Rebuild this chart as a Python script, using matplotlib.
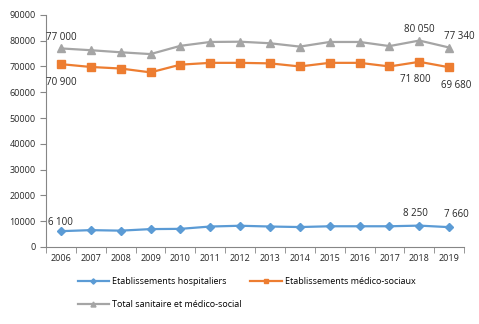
import matplotlib.pyplot as plt
import numpy as np

plt.rcParams['font.family'] = ['Open Sans', 'DejaVu Sans']

years = [str(y) for y in range(2006, 2020)]
hospitaliers = [6100, 6500, 6300, 6900, 7000, 7900, 8200, 7900, 7700, 8000, 8000, 8000, 8250, 7660]
medico_sociaux = [70900, 69800, 69200, 67700, 70700, 71400, 71400, 71200, 70000, 71400, 71400, 70000, 71800, 69680]
total = [77000, 76300, 75500, 74800, 78000, 79500, 79600, 79000, 77700, 79500, 79500, 77900, 80050, 77340]

series = [
    ("Etablissements hospitaliers", hospitaliers, "#5B9BD5", "D", 4.5),
    ("Etablissements médico-sociaux", medico_sociaux, "#ED7D31", "s", 5.5),
    ("Total sanitaire et médico-social", total, "#A5A5A5", "^", 6),
]

# labelled points: (series index, point index, offset in points)
labels = [
    (2, 0, (0, 8)), (1, 0, (0, -13)), (0, 0, (0, 6)),
    (2, 12, (0, 8)), (1, 12, (-3, -13)), (0, 12, (-3, 9)),
    (2, 13, (7, 8)), (1, 13, (5, -13)), (0, 13, (5, 9)),
]

fig = plt.figure(figsize=(4.79, 3.24), dpi=100)
ax = fig.add_axes([0.096, 0.238, 0.873, 0.716])

x = np.arange(len(years))
handles = []
for name, vals, col, mk, ms in series:
    h, = ax.plot(x, vals, color=col, marker=mk, markersize=ms, linewidth=1.6, label=name)
    handles.append(h)

for si, pi, off in labels:
    v = series[si][1][pi]
    txt = f"{v:,}".replace(",", " ")
    ax.annotate(txt, (x[pi], v), xytext=off, textcoords="offset points",
                ha="center", va="center", fontsize=7, color="#262626")

ax.set_ylim(0, 90000)
ax.set_yticks(range(0, 90001, 10000))
ax.set_xlim(-0.5, len(years) - 0.5)
ax.set_xticks(x)
ax.set_xticklabels(years)
ax.set_xticks(np.arange(-0.5, len(years)), minor=True)
ax.tick_params(axis="x", which="major", length=0, labelsize=6.5, colors="#262626", pad=5)
ax.tick_params(axis="x", which="minor", length=4, color="#868686")
ax.tick_params(axis="y", length=4, labelsize=6.5, colors="#262626", color="#868686")
for s in ["top", "right"]:
    ax.spines[s].set_visible(False)
for s in ["left", "bottom"]:
    ax.spines[s].set_color("#868686")
    ax.spines[s].set_linewidth(0.8)

# reorder so the legend fills row by row
fig.legend([handles[0], handles[2], handles[1]],
           [handles[0].get_label(), handles[2].get_label(), handles[1].get_label()],
           loc="lower left", bbox_to_anchor=(0.145, 0.02), ncol=2, frameon=False,
           fontsize=6.5, handlelength=3.5, columnspacing=1.0, labelspacing=1.6,
           handletextpad=0.3, markerscale=0.6)

fig.savefig("out.png", dpi=100)
